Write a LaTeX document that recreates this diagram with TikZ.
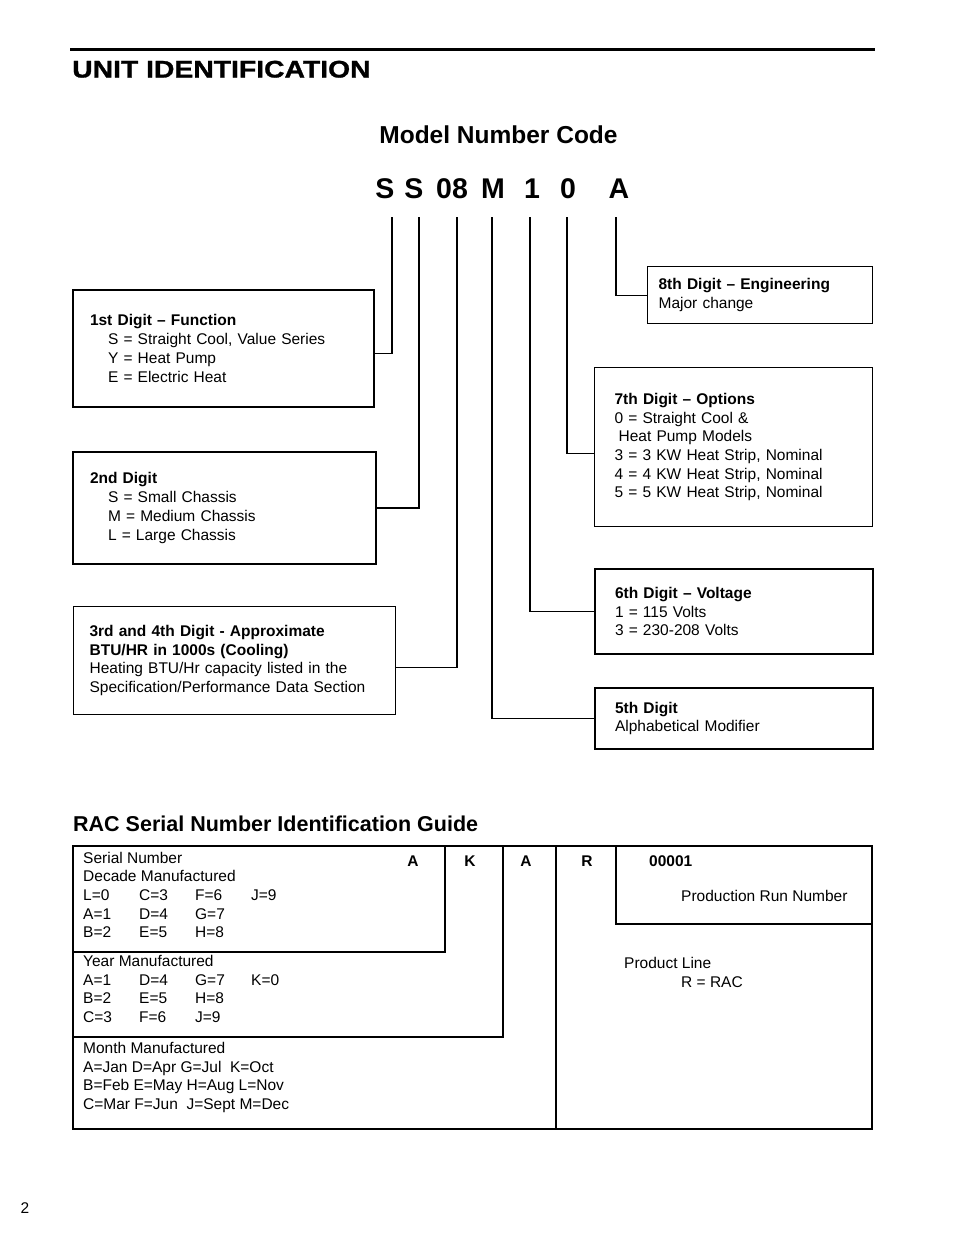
\documentclass[tikz,border=0pt]{standalone}
\usepackage{fontspec}
\setmainfont{Liberation Sans}
\newfontfamily\heavyfont[FakeStretch=1.18,FakeBold=1.2]{Liberation Sans Bold}
\newcommand{\bodysize}{\fontsize{15.5}{18.7}\selectfont}
\newcommand{\ind}{\hspace*{18pt}}
\newcommand{\col}[1]{\makebox[56pt][l]{#1}}

\begin{document}
\begin{tikzpicture}[
    x=1pt, y=-1pt,
    digit/.style={
        font=\fontsize{28.5}{30}\selectfont\bfseries,
        anchor=base,
        inner sep=0pt
    },
    infobox/.style={
        rectangle,
        draw,
        anchor=north west,
        align=left,
        font=\bodysize,
        inner ysep=0pt
    },
    thickbox/.style={
        infobox,
        line width=2pt
    },
    thinbox/.style={
        infobox,
        line width=1.2pt
    },
    link/.style={
        line width=1.1pt
    },
    serialtext/.style={
        anchor=north west,
        align=left,
        font=\bodysize,
        inner sep=0pt
    },
    colletter/.style={
        anchor=base,
        font=\bodysize\bfseries,
        inner sep=0pt
    }
]
\useasboundingbox (0,0) rectangle (954,1235);

% Header
\draw[line width=3pt] (70,49) -- (875,49);
\node[anchor=base west, inner sep=0pt, font=\fontsize{24}{26}\selectfont\heavyfont] (title) at (72,77.5) {UNIT IDENTIFICATION};
\node[anchor=base, inner sep=0pt, font=\fontsize{24.5}{26}\selectfont\bfseries] (codehead) at (498.5,143) {Model Number Code};

% Model number characters
\node[digit] (dS1) at (385,198) {S};
\node[digit] (dS2) at (414,198) {S};
\node[digit] (d08) at (452,198) {08};
\node[digit] (dM) at (493,198) {M};
\node[digit] (d1) at (532,198) {1};
\node[digit] (d0) at (568,198) {0};
\node[digit] (dA) at (619,198) {A};

\coordinate (t1) at (392,217);
\coordinate (t2) at (419,217);
\coordinate (t3) at (457,217);
\coordinate (t4) at (492,217);
\coordinate (t5) at (530,217);
\coordinate (t6) at (567,217);
\coordinate (t7) at (616,217);

% Left boxes
\node[thickbox, text width=267pt, inner xsep=17pt, minimum height=117pt] (fn) at (72,289) {\textbf{1st Digit – Function}\\\ind S = Straight Cool, Value Series\\\ind Y = Heat Pump\\\ind E = Electric Heat};

\node[thickbox, text width=269pt, inner xsep=17pt, minimum height=112pt] (chassis) at (72,451) {\textbf{2nd Digit}\\\ind S = Small Chassis\\\ind M = Medium Chassis\\\ind L = Large Chassis};

\node[thinbox, text width=290pt, inner xsep=16pt, minimum height=108pt] (btu) at (73,606) {\textbf{3rd and 4th Digit - Approximate}\\\textbf{BTU/HR in 1000s (Cooling)}\\Heating BTU/Hr capacity listed in the\\Specification/Performance Data Section};

% Right boxes
\node[thinbox, text width=203pt, inner xsep=11pt, minimum height=57pt] (eng) at (647,266) {\textbf{8th Digit – Engineering}\\Major change};

\node[thinbox, text width=238pt, inner xsep=20pt, minimum height=159pt] (opt) at (594,367) {\textbf{7th Digit – Options}\\0 = Straight Cool \&\\\hspace*{4pt}Heat Pump Models\\3 = 3 KW Heat Strip, Nominal\\4 = 4 KW Heat Strip, Nominal\\5 = 5 KW Heat Strip, Nominal};

\node[thickbox, text width=238pt, inner xsep=20pt, minimum height=85pt] (volt) at (594,568) {\textbf{6th Digit – Voltage}\\1 = 115 Volts\\3 = 230-208 Volts};

\node[thickbox, text width=238pt, inner xsep=20pt, minimum height=61pt] (alpha) at (594,687) {\textbf{5th Digit}\\Alphabetical Modifier};

% Connectors
\draw[link] (t1) |- ([yshift=-5pt]fn.east);
\draw[link] (t2) |- (chassis.east);
\draw[link] (t3) |- ([yshift=-7pt]btu.east);
\draw[link] (t4) |- (alpha.west);
\draw[link] (t5) |- (volt.west);
\draw[link] (t6) |- ([yshift=-6pt]opt.west);
\draw[link] (t7) |- (eng.west);

% Serial number guide
\node[anchor=base west, inner sep=0pt, font=\fontsize{21.5}{24}\selectfont\bfseries] (serialhead) at (73,831.5) {RAC Serial Number Identification Guide};

\draw[line width=1.6pt] (73,846) rectangle (872,1129);
\draw[line width=2pt] (73,846) rectangle (445,952);
\draw[line width=1.1pt] (73,1037) -| (503,846);
\draw[line width=1.1pt] (556,846) -- (556,1129);
\draw[line width=1.1pt] (616,846) |- (872,924);

\node[colletter] (cA1) at (413,866) {A};
\node[colletter] (cK) at (470,866) {K};
\node[colletter] (cA2) at (526,866) {A};
\node[colletter] (cR) at (587,866) {R};
\node[anchor=base west, inner sep=0pt, font=\bodysize\bfseries] (run) at (649,866) {00001};

\node[serialtext] (decade) at (83,851.7) {Serial Number\\Decade Manufactured\\\col{L=0}\col{C=3}\col{F=6}J=9\\\col{A=1}\col{D=4}G=7\\\col{B=2}\col{E=5}H=8};
\node[serialtext] (year) at (83,954.9) {Year Manufactured\\\col{A=1}\col{D=4}\col{G=7}K=0\\\col{B=2}\col{E=5}H=8\\\col{C=3}\col{F=6}J=9};
\node[serialtext] (month) at (83,1041.9) {Month Manufactured\\A=Jan D=Apr G=Jul\ \ K=Oct\\B=Feb E=May H=Aug L=Nov\\C=Mar F=Jun\ \ J=Sept M=Dec};

\node[anchor=base west, inner sep=0pt, font=\bodysize] (runlabel) at (681,901) {Production Run Number};
\node[serialtext] (line) at (624,956.9) {Product Line\\\hspace*{57pt}R = RAC};

% Page number
\node[anchor=base, inner sep=0pt, font=\bodysize] (page) at (25,1213) {2};

\end{tikzpicture}
\end{document}
